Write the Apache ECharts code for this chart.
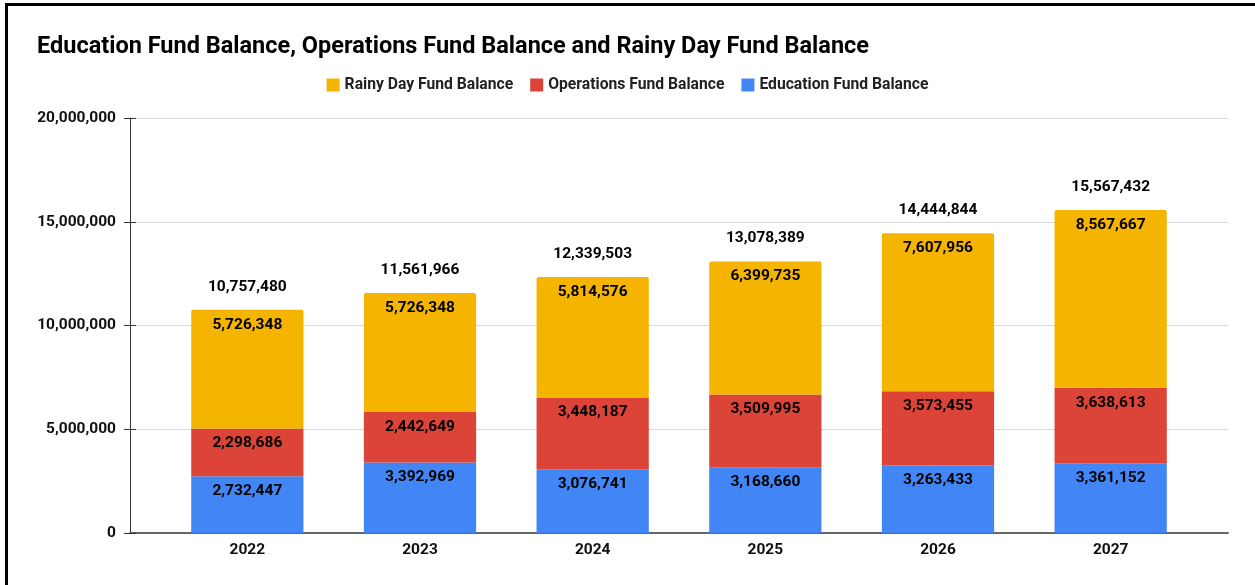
<!DOCTYPE html>
<html>
<head>
<meta charset="utf-8">
<script src="https://cdn.jsdelivr.net/npm/echarts@6/dist/echarts.min.js"></script>
<style>
  html, body { margin: 0; padding: 0; background: #fff; }
  #chart { width: 1255px; height: 585px; position: relative; }
  #frame { position: absolute; left: 5px; top: 3px; right: 0; bottom: 0;
           border-left: 3px solid #000; border-top: 3px solid #000; pointer-events: none; }
</style>
</head>
<body>
<div style="position:relative;width:1255px;height:585px;">
  <div id="chart"></div>
  <div id="frame"></div>
</div>
<script>
const years = ['2022', '2023', '2024', '2025', '2026', '2027'];
const educationFund = [2732447, 3392969, 3076741, 3168660, 3263433, 3361152];
const operationsFund = [2298686, 2442649, 3448187, 3509995, 3573455, 3638613];
const rainyDayFund = [5726348, 5726348, 5814576, 6399735, 7607956, 8567667];
const totals = [10757480, 11561966, 12339503, 13078389, 14444844, 15567432];
const yTicks = [0, 5000000, 10000000, 15000000, 20000000];

const FONT = 'Roboto';
const fmt = v => Number(v).toLocaleString('en-US');

const chart = echarts.init(document.getElementById('chart'), null, { renderer: 'canvas' });

const segLabel = {
  show: true,
  position: 'insideTop',
  distance: 7,
  color: '#000',
  fontFamily: FONT,
  fontWeight: 'bold',
  fontSize: 15.5,
  formatter: p => fmt(p.value)
};

const yMin = yTicks[0], yMax = yTicks[yTicks.length - 1];
const yStep = yTicks[1] - yTicks[0];

chart.setOption({
  animation: false,
  title: {
    text: 'Education Fund Balance, Operations Fund Balance and Rainy Day Fund Balance',
    left: 32, top: 30,
    textStyle: { fontFamily: FONT, fontWeight: 'bold', fontSize: 23.5, color: '#000' }
  },
  legend: {
    top: 72, left: 'center',
    data: ['Rainy Day Fund Balance', 'Operations Fund Balance', 'Education Fund Balance'],
    icon: 'rect', itemWidth: 13, itemHeight: 13, itemGap: 17,
    textStyle: { fontFamily: FONT, fontWeight: 'bold', fontSize: 15.7, color: '#222' }
  },
  grid: [
    { left: 130, right: 27, top: 118, bottom: 52 },
    { left: 161, right: 58, top: 118, bottom: 52 }
  ],
  xAxis: [
    { gridIndex: 0, type: 'category', data: years, boundaryGap: true,
      axisLine: { show: true, lineStyle: { color: '#666', width: 2 } },
      axisTick: { show: false }, axisLabel: { show: false }, splitLine: { show: false } },
    { gridIndex: 1, type: 'category', data: years,
      axisLine: { show: false }, axisTick: { show: false },
      axisLabel: { fontFamily: FONT, fontWeight: 'bold', fontSize: 15.5, color: '#111', margin: 9 } }
  ],
  yAxis: [
    { gridIndex: 0, type: 'value', min: yMin, max: yMax, interval: yStep,
      axisLine: { show: true, lineStyle: { color: '#333', width: 1 } },
      axisTick: { show: true, length: 6, lineStyle: { color: '#333' } },
      axisLabel: { fontFamily: FONT, fontWeight: 'bold', fontSize: 15.5, color: '#111', margin: 14,
                   formatter: v => fmt(v) },
      splitLine: { show: true, lineStyle: { color: '#d9d9d9', width: 1 } } },
    { gridIndex: 0, type: 'value', min: yMin, max: yMax, interval: yStep, position: 'left',
      axisLine: { show: false },
      axisTick: { show: true, inside: true, length: 6, lineStyle: { color: '#333' } },
      axisLabel: { show: false }, splitLine: { show: false } },
    { gridIndex: 1, type: 'value', min: yMin, max: yMax, interval: yStep, show: false }
  ],
  series: [
    { name: 'Education Fund Balance', type: 'bar', stack: 'fund', xAxisIndex: 1, yAxisIndex: 2,
      barWidth: '65%', data: educationFund, itemStyle: { color: '#4285F4' }, label: segLabel, z: 3 },
    { name: 'Operations Fund Balance', type: 'bar', stack: 'fund', xAxisIndex: 1, yAxisIndex: 2,
      barWidth: '65%', data: operationsFund, itemStyle: { color: '#DB4437' }, label: segLabel, z: 3 },
    { name: 'Rainy Day Fund Balance', type: 'bar', stack: 'fund', xAxisIndex: 1, yAxisIndex: 2,
      barWidth: '65%', data: rainyDayFund, itemStyle: { color: '#F4B400', borderRadius: [2, 2, 0, 0] },
      label: segLabel, z: 3 },
    // stack totals printed above each column
    { name: 'Total', type: 'scatter', xAxisIndex: 1, yAxisIndex: 2, data: totals,
      symbolSize: 2, itemStyle: { color: 'rgba(0,0,0,0)', opacity: 1 }, silent: true, z: 4,
      label: { show: true, position: 'top', distance: 14, color: '#000', opacity: 1,
               fontFamily: FONT, fontWeight: 'bold', fontSize: 15.5,
               formatter: p => fmt(Array.isArray(p.value) ? p.value[1] : p.value) } }
  ]
});
</script>
</body>
</html>
